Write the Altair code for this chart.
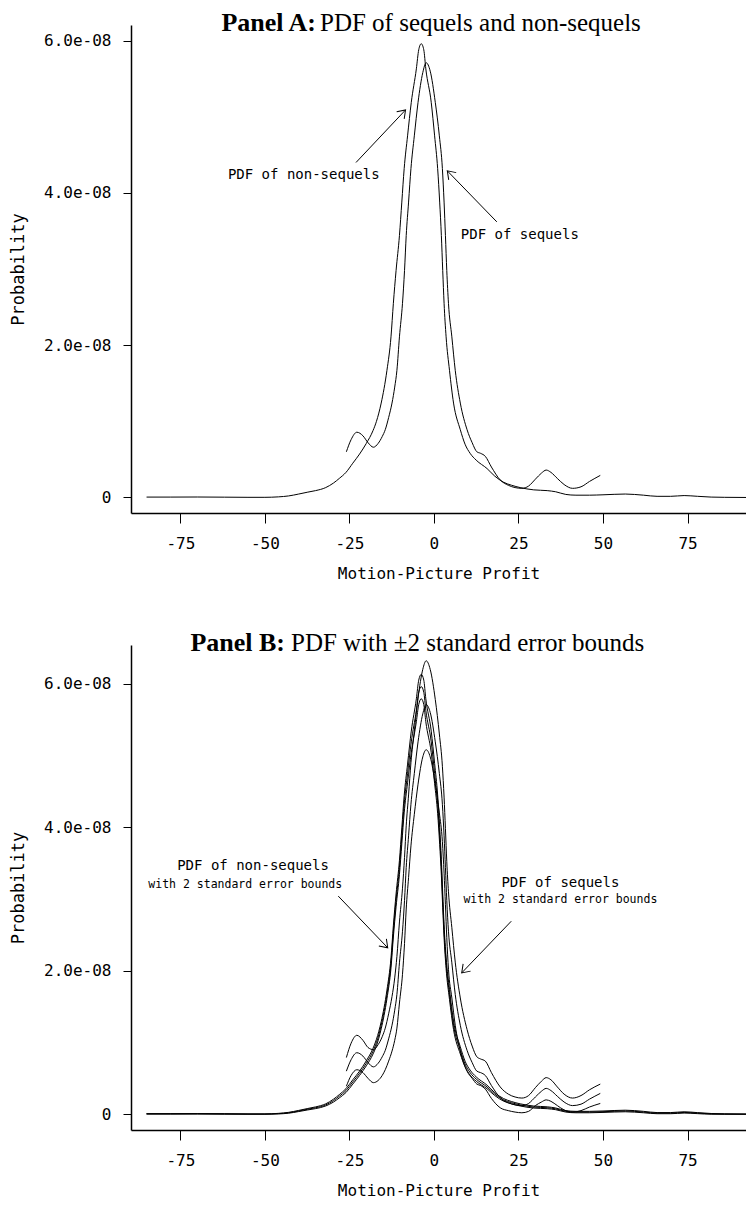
import altair as alt
import pandas as pd

# ---------------- data (density values in units of 1e-8) ----------------
NS_X = [-85, -78, -70, -62, -55, -50, -46, -43, -40, -37.3,
        -35, -32, -29.7, -28, -26, -24, -22, -20, -18, -17,
        -15.6, -13.9, -12.7, -12.0, -11.2, -10.2, -9.5, -8.8, -7.8, -6.7,
        -5.2, -4.5, -3.75, -3.0, -2.4, -0.8, 0.2, 1.1, 1.7, 2.2,
        2.6, 3.0, 3.6, 4.6, 5.8, 7.8, 9.2, 10.7, 12.5, 15.7,
        18, 20.6, 23, 25.5, 29.5, 33.5, 36, 39, 42, 46,
        50, 56.6, 62, 66, 70, 74, 78, 82, 86, 92.6]
NS_Y = [0.005, 0.005, 0.006, 0.004, 0.002, 0.002, 0.008, 0.02, 0.045, 0.07,
        0.09, 0.13, 0.19, 0.25, 0.33, 0.45, 0.57, 0.71, 0.88, 1.0,
        1.24, 1.67, 2.11, 2.55, 2.98, 3.44, 3.88, 4.32, 4.75, 5.19,
        5.63, 5.88, 5.96, 5.88, 5.63, 5.19, 4.75, 4.32, 3.88, 3.44,
        2.98, 2.55, 2.11, 1.67, 1.24, 0.89, 0.70, 0.58, 0.49, 0.38,
        0.28, 0.20, 0.16, 0.13, 0.10, 0.09, 0.075, 0.04, 0.03, 0.03,
        0.035, 0.045, 0.03, 0.015, 0.015, 0.025, 0.015, 0.005, 0.002, 0.0]
NS_HI = [0.008, 0.008, 0.009, 0.007, 0.004, 0.004, 0.012, 0.026, 0.053, 0.08,
         0.102, 0.145, 0.21, 0.273, 0.357, 0.48, 0.60, 0.745, 0.92, 1.045,
         1.29, 1.73, 2.18, 2.63, 3.07, 3.54, 3.99, 4.44, 4.88, 5.34,
         5.79, 6.05, 6.13, 6.05, 5.79, 5.34, 4.89, 4.45, 4.0, 3.55,
         3.08, 2.64, 2.19, 1.74, 1.30, 0.94, 0.74, 0.615, 0.52, 0.405,
         0.30, 0.218, 0.176, 0.145, 0.114, 0.103, 0.087, 0.05, 0.04, 0.04,
         0.045, 0.056, 0.04, 0.023, 0.023, 0.034, 0.022, 0.01, 0.005, 0.002]
NS_LO = [0.002, 0.002, 0.003, 0.001, 0.0, 0.0, 0.004, 0.014, 0.037, 0.06,
         0.078, 0.115, 0.17, 0.227, 0.303, 0.42, 0.54, 0.675, 0.84, 0.955,
         1.19, 1.61, 2.04, 2.47, 2.89, 3.34, 3.77, 4.20, 4.62, 5.04,
         5.47, 5.71, 5.79, 5.71, 5.47, 5.04, 4.61, 4.19, 3.76, 3.33,
         2.88, 2.46, 2.03, 1.60, 1.18, 0.84, 0.66, 0.545, 0.46, 0.355,
         0.26, 0.182, 0.144, 0.115, 0.086, 0.077, 0.063, 0.03, 0.02, 0.02,
         0.025, 0.034, 0.02, 0.007, 0.007, 0.016, 0.008, 0.0, 0.0, 0.0]

SQ_X = [-25.9, -24.5, -22.8, -21, -19.5, -17.9, -16.5, -15.3, -14.4, -13.4,
        -12.4, -11.6, -10.95, -10.2, -9.3, -8.7, -8.2, -7.5, -6.8, -5.8,
        -4.7, -3.3, -2.3, -1.1, 0.4, 1.6, 2.5, 3.0, 3.4, 3.8,
        4.3, 5.3, 6.3, 7.8, 9.8, 11.3, 12.7, 13.8, 15.2, 17,
        19.6, 22, 24, 26, 28, 30, 31.8, 33.2, 34.6, 36.5,
        38.5, 41, 43.5, 46, 49.2]
SQ_Y = [0.60, 0.76, 0.857, 0.81, 0.72, 0.66, 0.71, 0.80, 0.89, 1.05,
        1.24, 1.45, 1.67, 2.11, 2.55, 2.98, 3.44, 3.88, 4.32, 4.75,
        5.19, 5.58, 5.71, 5.60, 5.19, 4.75, 4.32, 3.88, 3.44, 2.98,
        2.55, 2.11, 1.67, 1.24, 0.89, 0.72, 0.60, 0.58, 0.54, 0.40,
        0.23, 0.16, 0.13, 0.12, 0.15, 0.24, 0.32, 0.36, 0.33, 0.25,
        0.17, 0.12, 0.14, 0.21, 0.29]
SQ_HI = [0.79, 0.99, 1.10, 1.03, 0.93, 0.90, 0.97, 1.08, 1.20, 1.40,
         1.64, 1.90, 2.20, 2.68, 3.15, 3.58, 4.02, 4.45, 4.90, 5.34,
         5.80, 6.20, 6.32, 6.20, 5.78, 5.30, 4.85, 4.42, 3.98, 3.52,
         3.10, 2.60, 2.12, 1.62, 1.18, 0.95, 0.80, 0.77, 0.74, 0.58,
         0.38, 0.28, 0.24, 0.225, 0.26, 0.37, 0.46, 0.51, 0.48, 0.38,
         0.28, 0.225, 0.26, 0.34, 0.42]
SQ_LO = [0.39, 0.54, 0.62, 0.58, 0.50, 0.44, 0.47, 0.54, 0.62, 0.74,
         0.88, 1.03, 1.20, 1.55, 1.95, 2.38, 2.86, 3.30, 3.74, 4.18,
         4.60, 4.98, 5.08, 4.98, 4.60, 4.20, 3.80, 3.36, 2.92, 2.46,
         2.02, 1.62, 1.24, 0.88, 0.60, 0.50, 0.42, 0.40, 0.35, 0.22,
         0.09, 0.05, 0.03, 0.02, 0.04, 0.12, 0.17, 0.20, 0.18, 0.12,
         0.06, 0.03, 0.05, 0.10, 0.15]

X_TICKS = [-75, -50, -25, 0, 25, 50, 75]
Y_TICKS = [0, 2, 4, 6]

# annotations (data units)
ANN_A_TEXT = ["PDF of non-sequels", "PDF of sequels"]
ANN_A_X = [-38.5, 25.4]
ANN_A_Y = [4.24, 3.45]
ARR_A_X1 = [-23.05, 18.6]
ARR_A_Y1 = [4.40, 3.62]
ARR_A_X2 = [-8.40, 3.96]
ARR_A_Y2 = [5.09, 4.29]
ARR_A_ANG = [43.4, 316.2]

ANN_B_TEXT = ["PDF of non-sequels", "PDF of sequels"]
ANN_B_X = [-53.5, 37.4]
ANN_B_Y = [3.46, 3.22]
ANN_B_SUB = ["with 2 standard error bounds", "with 2 standard error bounds"]
ANN_B_SUB_X = [-55.8, 37.4]
ANN_B_SUB_Y = [3.20, 2.98]
ARR_B_X1 = [-28.3, 22.87]
ARR_B_Y1 = [3.04, 2.69]
ARR_B_X2 = [-13.67, 8.22]
ARR_B_Y2 = [2.32, 1.97]
ARR_B_ANG = [136.6, 223.8]

MONO = "DejaVu Sans Mono"
W = 615


def curves(spec):
    rows = []
    for name, xs, ys in spec:
        for xv, yv in zip(xs, ys):
            rows.append({"x": xv, "y": yv, "s": name})
    return pd.DataFrame(rows)


def panel(df_lines, ydom, height, ann, sub, arrows, bold, rest, bold_r, rest_l):
    xs = alt.Scale(domain=[-89.6, 92.3], nice=False, zero=False)
    ys = alt.Scale(domain=ydom, nice=False, zero=False)
    xax = alt.Axis(values=X_TICKS, title="Motion-Picture Profit",
                   labelExpr="'' + datum.value", tickSize=10, labelPadding=12,
                   titlePadding=14, grid=False, domainColor="black",
                   tickColor="black", labelColor="black", titleColor="black",
                   labelFont=MONO, labelFontSize=16, titleFont=MONO,
                   titleFontSize=16, titleFontWeight="normal", domainWidth=1.5,
                   labelFlush=False)
    yax = alt.Axis(values=Y_TICKS, title="Probability",
                   labelExpr="datum.value == 0 ? '0' : format(datum.value, '.1f') + 'e-08'",
                   tickSize=8, labelPadding=12, grid=False, domainColor="black",
                   tickColor="black", labelColor="black", titleColor="black",
                   labelFont=MONO, labelFontSize=16, titleFont=MONO,
                   titleFontSize=17, titleFontWeight="normal", domainWidth=1.5,
                   titleAngle=270, titleBaseline="middle", titleAlign="center",
                   titleX=-113, titleY=height / 2, labelFlush=False)

    lines = alt.Chart(df_lines).mark_line(color="black", strokeWidth=1,
                                          interpolate="monotone", clip=True).encode(
        x=alt.X("x:Q", scale=xs, axis=xax),
        y=alt.Y("y:Q", scale=ys, axis=yax),
        detail="s:N",
    )
    layers = [lines]

    adf = pd.DataFrame({"x": ann[1], "y": ann[2], "t": ann[0]})
    layers.append(alt.Chart(adf).mark_text(font=MONO, fontSize=14, color="black",
                                           baseline="middle", align="center").encode(
        x=alt.X("x:Q", scale=xs), y=alt.Y("y:Q", scale=ys), text="t:N"))
    if sub is not None:
        sdf = pd.DataFrame({"x": sub[1], "y": sub[2], "t": sub[0]})
        layers.append(alt.Chart(sdf).mark_text(font=MONO, fontSize=11.5, color="black",
                                               baseline="middle", align="center").encode(
            x=alt.X("x:Q", scale=xs), y=alt.Y("y:Q", scale=ys), text="t:N"))

    rdf = pd.DataFrame({"x1": arrows[0], "y1": arrows[1], "x2": arrows[2],
                        "y2": arrows[3], "a": arrows[4]})
    layers.append(alt.Chart(rdf).mark_rule(color="black", strokeWidth=1).encode(
        x=alt.X("x1:Q", scale=xs), y=alt.Y("y1:Q", scale=ys), x2="x2:Q", y2="y2:Q"))
    layers.append(alt.Chart(rdf).mark_point(
        shape="M -0.7 1 L 0 0 L 0.7 1", filled=False, stroke="black",
        strokeWidth=1, size=220, opacity=1).encode(
        x=alt.X("x2:Q", scale=xs), y=alt.Y("y2:Q", scale=ys),
        angle=alt.Angle("a:Q", scale=None)))

    tdf = pd.DataFrame({"b": [bold], "r": [rest]})
    layers.append(alt.Chart(tdf).mark_text(font="Liberation Serif", fontWeight="bold",
                                           fontSize=26, color="black", align="right",
                                           baseline="alphabetic").encode(
        x=alt.value(bold_r), y=alt.value(6), text="b:N"))
    layers.append(alt.Chart(tdf).mark_text(font="Liberation Serif", fontSize=25,
                                           color="black", align="left",
                                           baseline="alphabetic").encode(
        x=alt.value(rest_l), y=alt.value(6), text="r:N"))
    return alt.layer(*layers).properties(width=W, height=height)


dfA = curves([("ns", NS_X, NS_Y), ("sq", SQ_X, SQ_Y)])
dfB = curves([("ns", NS_X, NS_Y), ("ns_hi", NS_X, NS_HI), ("ns_lo", NS_X, NS_LO),
              ("sq", SQ_X, SQ_Y), ("sq_hi", SQ_X, SQ_HI), ("sq_lo", SQ_X, SQ_LO)])

pA = panel(dfA, [-0.204, 6.206], 488,
           (ANN_A_TEXT, ANN_A_X, ANN_A_Y), None,
           (ARR_A_X1, ARR_A_Y1, ARR_A_X2, ARR_A_Y2, ARR_A_ANG),
           "Panel A:", "PDF of sequels and non-sequels", 185, 189)
pB = panel(dfB, [-0.22, 6.54], 485,
           (ANN_B_TEXT, ANN_B_X, ANN_B_Y), (ANN_B_SUB, ANN_B_SUB_X, ANN_B_SUB_Y),
           (ARR_B_X1, ARR_B_Y1, ARR_B_X2, ARR_B_Y2, ARR_B_ANG),
           "Panel B:", "PDF with \u00b12 standard error bounds", 154, 160)

chart = alt.vconcat(pA, pB, spacing=49).properties(
    padding={"left": 1, "top": 2, "right": 0, "bottom": 0},
    background="white",
).configure_view(stroke=None)

chart.save("out.html", embed_options={"renderer": "svg", "actions": False})
